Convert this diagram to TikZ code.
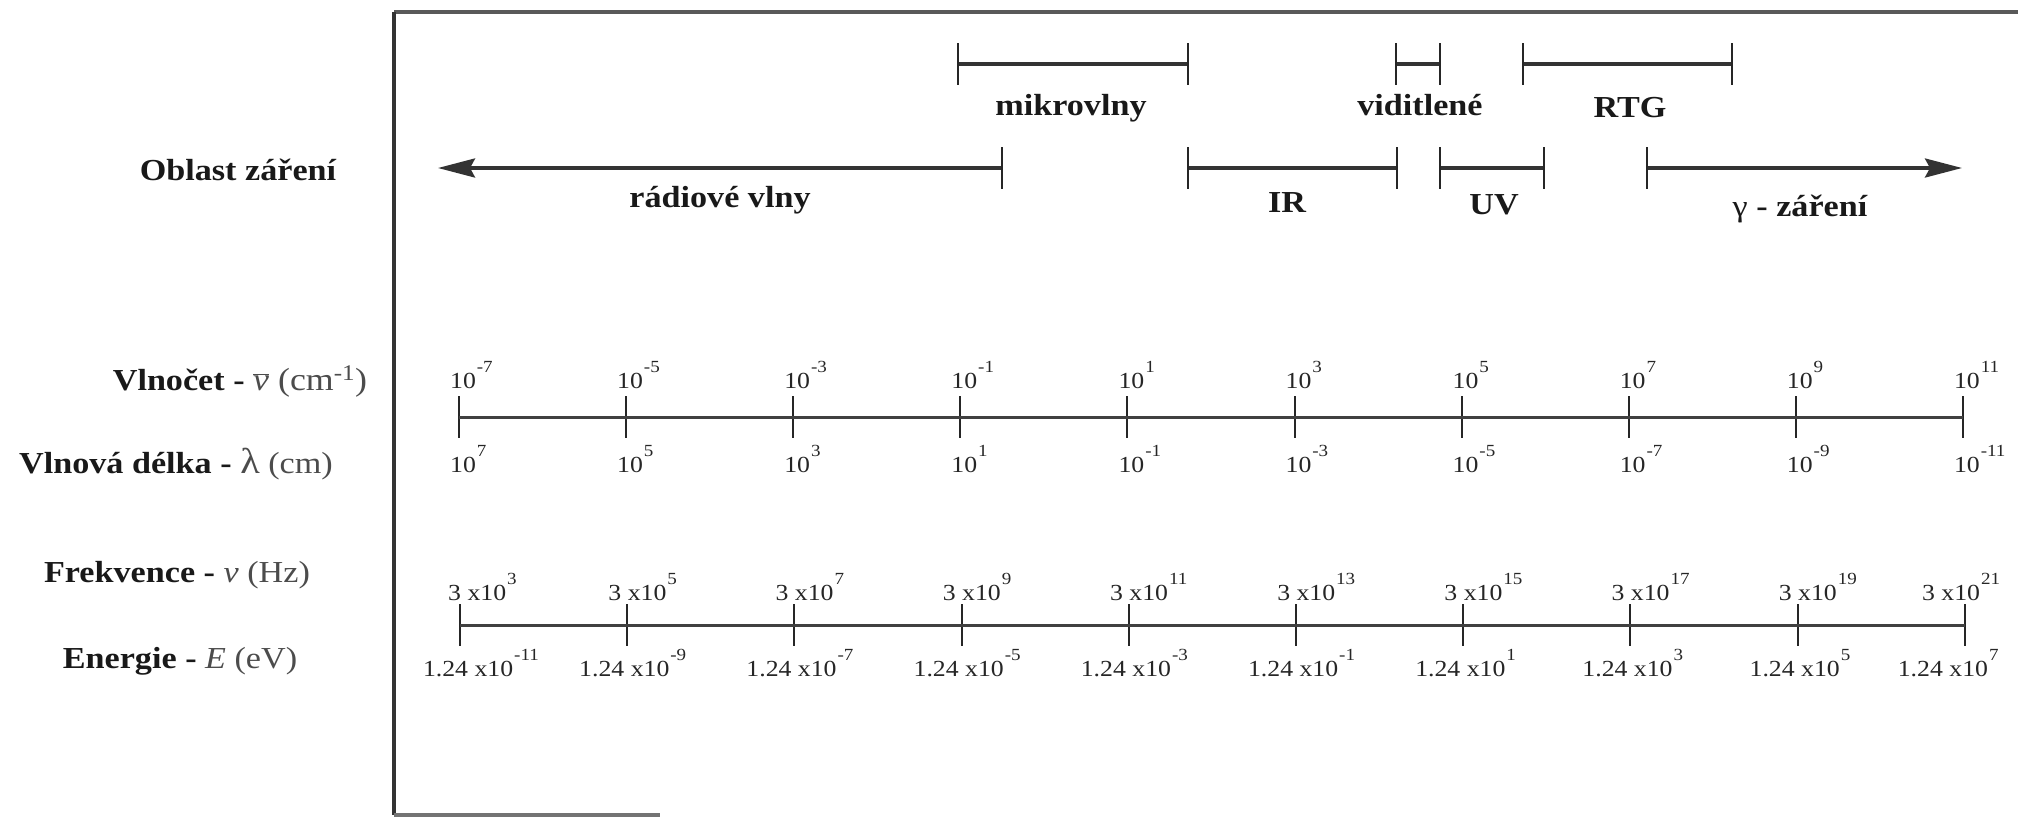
\documentclass[tikz,border=0pt]{standalone}
\usepackage{fontspec}
\setmainfont{Liberation Serif}[FakeStretch=1.12]
\usetikzlibrary{arrows.meta}
\newcommand\myexp[1]{\kern1pt\raisebox{16pt}{\fontsize{17}{17}\selectfont #1}}
\begin{document}
\begin{tikzpicture}[x=1pt,y=-1pt,
  lbl/.style={font=\fontsize{30.5}{32}\selectfont\bfseries, inner sep=0pt, anchor=base, text=black!90},
  num/.style={font=\fontsize{23}{24}\selectfont, inner sep=0pt, anchor=base, text=black!85},
  barline/.style={line width=3.5pt, draw=black!80},
  tickline/.style={line width=2pt, draw=black!85},
  scaleline/.style={line width=3pt, draw=black!75},
  frameline/.style={line width=3.5pt, draw=black!80},
  arrowtip/.style={-{Stealth[length=37pt,width=19pt,inset=5pt]}}
]
\useasboundingbox (0,0) rectangle (2018,817);
% frame
\coordinate (fTL) at (394,12);
\coordinate (fTR) at (2018,12);
\coordinate (fBL) at (394,815);
\coordinate (fBR) at (660,815);
\draw[frameline, draw=black!65, line width=4pt] (fTL) -- (fTR);
\draw[frameline] (fTL) -- (fBL);
\draw[frameline, draw=black!55] (fBL) -- (fBR);

% range bars
\foreach \n/\a/\b/\y in {mik/958/1188/64, vid/1396/1440/64, rtg/1523/1732/64, ir/1188/1397/168, uv/1440/1544/168} {
  \coordinate (\n1) at (\a,\y);
  \coordinate (\n2) at (\b,\y);
  \draw[barline] (\n1) -- (\n2);
  \draw[tickline] (\a,\y-21) -- (\a,\y+21);
  \draw[tickline] (\b,\y-21) -- (\b,\y+21);
}
% open-ended arrows
\coordinate (rad1) at (1002,168);
\coordinate (rad2) at (438,168);
\draw[barline, arrowtip] (rad1) -- (rad2);
\draw[tickline] (1002,147) -- (1002,189);
\coordinate (gam1) at (1647,168);
\coordinate (gam2) at (1962,168);
\draw[barline, arrowtip] (gam1) -- (gam2);
\draw[tickline] (1647,147) -- (1647,189);

% region labels
\node[lbl] (oblast) at (238,180) {Oblast záření};
\node[lbl] (mikro) at (1071,115) {mikrovlny};
\node[lbl] (vidit) at (1420,115) {viditlené};
\node[lbl] (rtg) at (1630,117) {RTG};
\node[lbl] (radio) at (720,207) {rádiové vlny};
\node[lbl] (ir) at (1287,212) {IR};
\node[lbl] (uv) at (1494,214) {UV};
\node[lbl] (gamma) at (1800,216) {{\mdseries γ} - záření};

% left axis labels
\node[lbl] (vlnocet) at (240,390) {Vlnočet - {\fontsize{32}{32}\selectfont\mdseries\color{black!70}$\overline{\hbox{\itshape ν}}$ (cm\textsuperscript{-1})}};
\node[lbl] (vlnova) at (176,473) {Vlnová délka - {\mdseries\color{black!70}{\fontsize{36}{36}\selectfont λ} (cm)}};
\node[lbl] (frek) at (177,582) {Frekvence - {\mdseries\color{black!70}{\itshape ν} (Hz)}};
\node[lbl] (energ) at (180,668) {Energie - {\mdseries\color{black!70}{\itshape E} (eV)}};

% wavenumber / wavelength scale
\foreach \i/\up/\dn in {0/-7/7, 1/-5/5, 2/-3/3, 3/-1/1, 4/1/-1, 5/3/-3, 6/5/-5, 7/7/-7, 8/9/-9, 9/11/-11} {
  \pgfmathsetmacro\xx{459+167.1*\i}
  \coordinate (a\i) at (\xx,417);
  \draw[tickline] (\xx,396) -- (\xx,438);
  \node[num] (wn\i) at (\xx+4,388) {10\rlap{\myexp{\up}}};
  \node[num] (wl\i) at (\xx+4,472) {10\rlap{\myexp{\dn}}};
}
\draw[scaleline] (a0) -- (a9);

% frequency / energy scale
\foreach \i/\f/\e/\df/\de in {0/3/-11/14/21, 1/5/-9/7/10, 2/7/-7/7/10, 3/9/-5/7/10, 4/11/-3/7/10, 5/13/-1/7/10, 6/15/1/7/10, 7/17/3/7/10, 8/19/5/7/10, 9/21/7/-17/-9} {
  \pgfmathsetmacro\xx{460+167.2*\i}
  \pgfmathsetmacro\xf{\xx+(\df)}
  \pgfmathsetmacro\xe{\xx+(\de)}
  \coordinate (b\i) at (\xx,625);
  \draw[tickline] (\xx,604) -- (\xx,646);
  \node[num] (fq\i) at (\xf,600) {\llap{3 }x\rlap{10\myexp{\f}}};
  \node[num] (en\i) at (\xe,676) {\llap{1.24 }x\rlap{10\myexp{\e}}};
}
\draw[scaleline] (b0) -- (b9);
\end{tikzpicture}
\end{document}
